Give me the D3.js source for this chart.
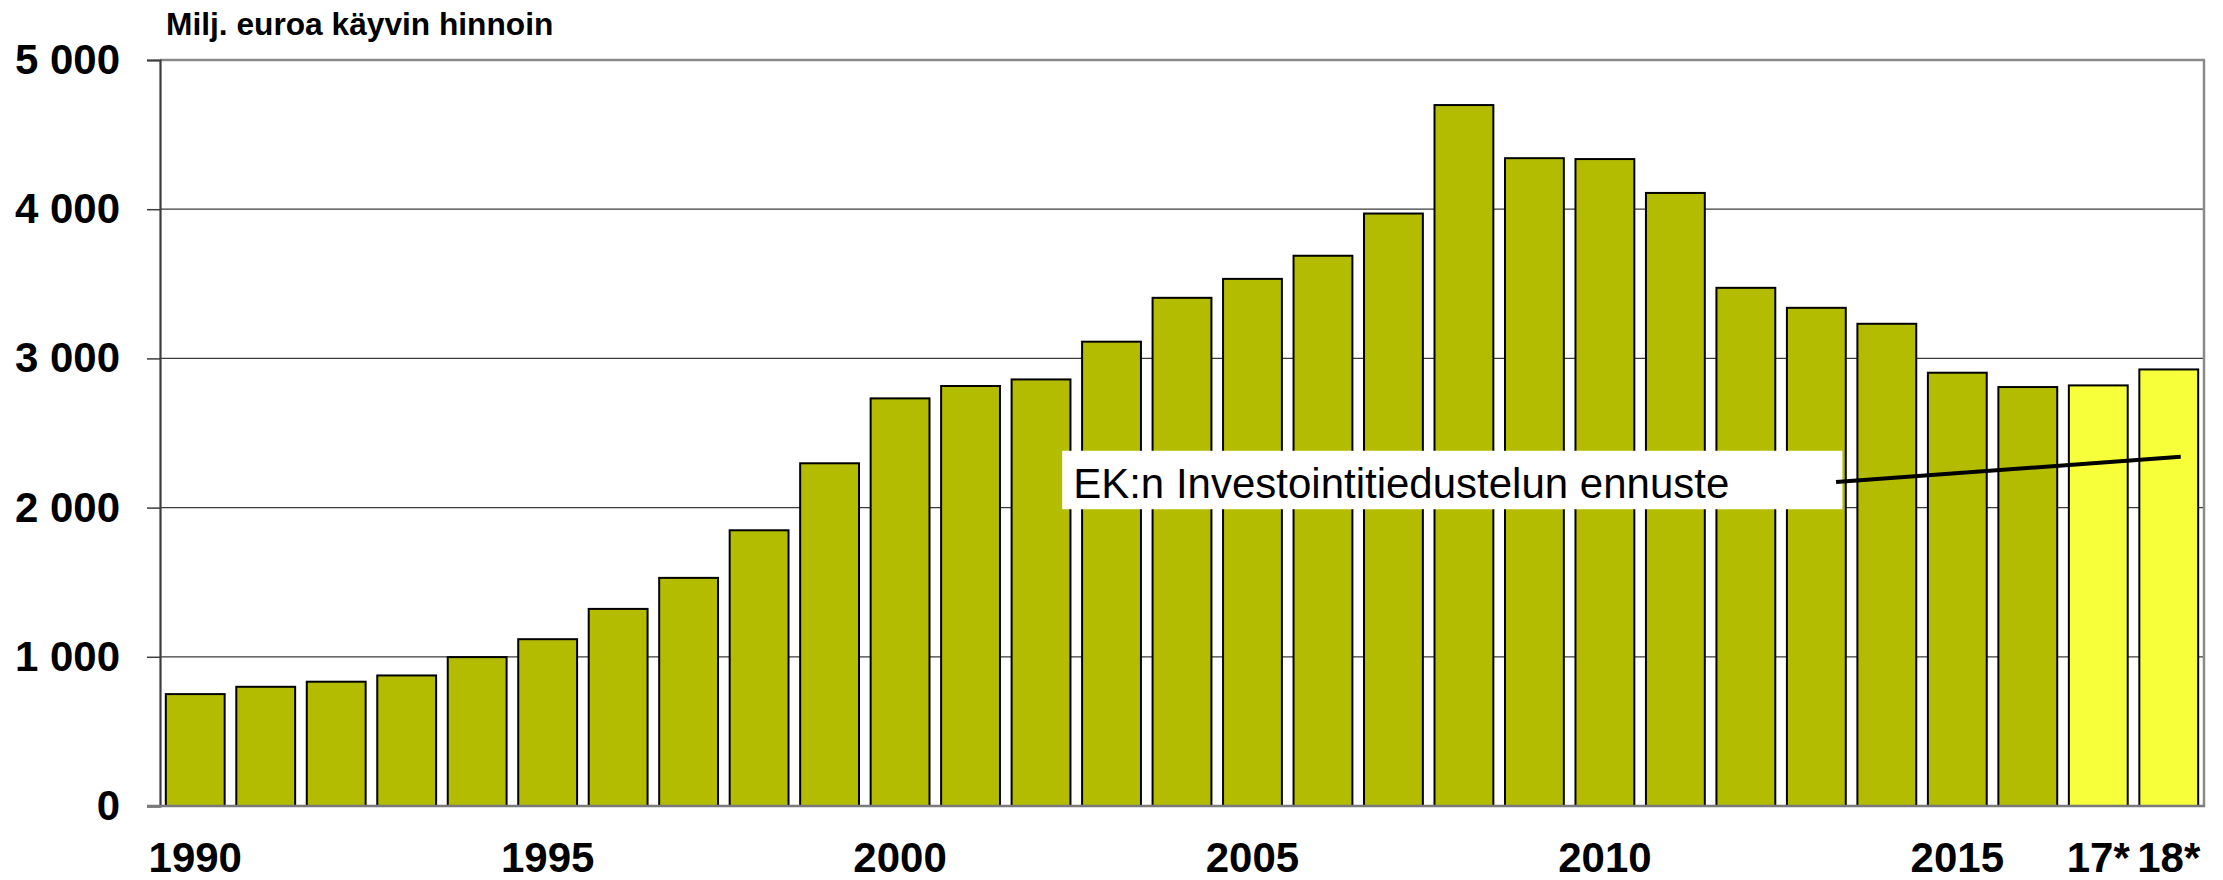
<!DOCTYPE html>
<html>
<head>
<meta charset="utf-8">
<script src="https://cdn.jsdelivr.net/npm/d3@7"></script>
<style>
  html, body { margin: 0; padding: 0; background: #fff; }
  svg { display: block; }
  text { font-family: "Liberation Sans", Arial, sans-serif; }
</style>
</head>
<body>
<svg id="chart" width="2223" height="880"></svg>
<script>
// ---- data ----
const categories = ["1990","1991","1992","1993","1994","1995","1996","1997","1998","1999",
  "2000","2001","2002","2003","2004","2005","2006","2007","2008","2009",
  "2010","2011","2012","2013","2014","2015","2016","17*","18*"];
const values = [750, 799, 833, 875, 998, 1118, 1321, 1529, 1848, 2297,
  2732, 2815, 2859, 3112, 3406, 3533, 3688, 3971, 4698, 4342,
  4336, 4109, 3473, 3339, 3232, 2904, 2808, 2819, 2926];
const forecastCategories = ["17*", "18*"];
const xTickLabels = ["1990","1995","2000","2005","2010","2015","17*","18*"];
const yTicks = [0, 1000, 2000, 3000, 4000, 5000];
const yTitle = "Milj. euroa käyvin hinnoin";
const annotationText = "EK:n Investointitiedustelun ennuste";
// annotation line, in category-index units and data values
const annotationLine = { i0: 23.78, v0: 2171, i1: 28.67, v1: 2341 };
const annotationBox = { i0: 12.80, i1: 23.87, vTop: 2381, vBottom: 1989, vText: 2064 };

(function () {
// ---- layout ----
const pLeft = 160, pRight = 2204, pTop = 60, pBottom = 806;
const svg = d3.select("#chart");

const x = d3.scaleBand().domain(categories).range([pLeft, pRight])
  .paddingInner(0.165).paddingOuter(0.0825);
const y = d3.scaleLinear().domain([0, 5000]).range([pBottom, pTop]);
const xi = i => pLeft + i * x.step();

const fmt = v => d3.format(",")(v).replace(/,/g, " ");

// gridlines
svg.append("g").selectAll("line").data(yTicks.filter(t => t > 0 && t < 5000)).join("line")
  .attr("x1", pLeft).attr("x2", pRight)
  .attr("y1", d => y(d)).attr("y2", d => y(d))
  .attr("stroke", "#3c3c3c").attr("stroke-width", 1.3);

// top & right frame
svg.append("line").attr("x1", pLeft).attr("x2", pRight + 1).attr("y1", y(5000)).attr("y2", y(5000))
  .attr("stroke", "#8a8a8a").attr("stroke-width", 2.5);
svg.append("line").attr("x1", pRight).attr("x2", pRight).attr("y1", y(5000)).attr("y2", y(0))
  .attr("stroke", "#8a8a8a").attr("stroke-width", 2.5);

// bars
svg.append("g").selectAll("rect").data(categories).join("rect")
  .attr("x", d => x(d))
  .attr("y", (d, i) => y(values[i]))
  .attr("width", x.bandwidth())
  .attr("height", (d, i) => y(0) - y(values[i]))
  .attr("fill", d => forecastCategories.includes(d) ? "#f7ff3b" : "#b4bc00")
  .attr("stroke", "#000").attr("stroke-width", 2);

// y axis
const yAxis = d3.axisLeft(y).tickValues(yTicks).tickSize(13).tickPadding(27).tickFormat(fmt);
const gy = svg.append("g").attr("transform", `translate(${pLeft},0)`).call(yAxis);
gy.select(".domain").attr("stroke", "#3c3c3c").attr("stroke-width", 2.2);
gy.selectAll(".tick line").attr("stroke", "#3c3c3c").attr("stroke-width", 1.5);
gy.selectAll(".tick text").attr("font-size", 42).attr("font-weight", "bold")
  .attr("fill", "#000").attr("font-family", "Liberation Sans, Arial, sans-serif");

// bottom axis line
svg.append("line").attr("x1", pLeft - 13).attr("x2", pRight + 1).attr("y1", y(0)).attr("y2", y(0))
  .attr("stroke", "#7a7a7a").attr("stroke-width", 2.5);

// x axis labels
const xAxis = d3.axisBottom(x).tickValues(xTickLabels).tickSize(0).tickPadding(0);
const gx = svg.append("g").attr("transform", `translate(0,${pBottom})`).call(xAxis);
gx.select(".domain").remove();
gx.selectAll(".tick text").attr("font-size", 42).attr("font-weight", "bold")
  .attr("fill", "#000").attr("font-family", "Liberation Sans, Arial, sans-serif")
  .attr("dy", null).attr("y", 66);

// title
svg.append("text").attr("x", 166).attr("y", 35)
  .attr("font-size", 31.7).attr("font-weight", "bold").attr("fill", "#000")
  .text(yTitle);

// annotation box + text
svg.append("rect")
  .attr("x", xi(annotationBox.i0)).attr("y", y(annotationBox.vTop))
  .attr("width", xi(annotationBox.i1) - xi(annotationBox.i0))
  .attr("height", y(annotationBox.vBottom) - y(annotationBox.vTop))
  .attr("fill", "#fff");
svg.append("text")
  .attr("x", xi(annotationBox.i0) + 11).attr("y", y(annotationBox.vText))
  .attr("font-size", 42).attr("fill", "#000")
  .text(annotationText);

// annotation line
svg.append("line")
  .attr("x1", xi(annotationLine.i0)).attr("y1", y(annotationLine.v0))
  .attr("x2", xi(annotationLine.i1)).attr("y2", y(annotationLine.v1))
  .attr("stroke", "#000").attr("stroke-width", 4);
})();
</script>
</body>
</html>
